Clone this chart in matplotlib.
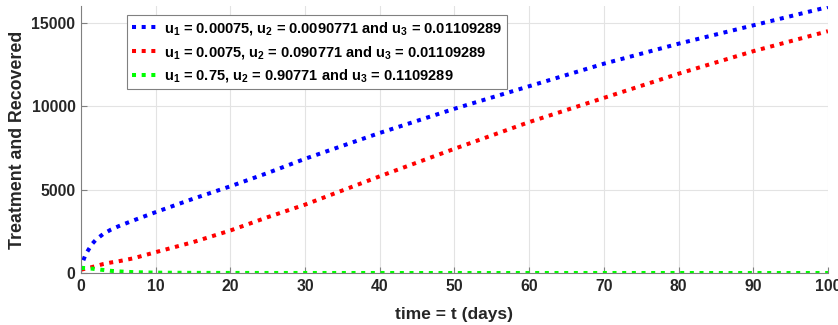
import matplotlib
matplotlib.use("Agg")
import matplotlib.pyplot as plt

plt.rcParams['font.family'] = ['Liberation Sans', 'DejaVu Sans']
plt.rcParams['font.weight'] = 'bold'
plt.rcParams['mathtext.fontset'] = 'custom'
plt.rcParams['mathtext.default'] = 'bf'
plt.rcParams['mathtext.bf'] = 'Liberation Sans:bold'
plt.rcParams['mathtext.rm'] = 'Liberation Sans:bold'

t = [0, 0.3, 0.6, 1, 1.5, 2, 3, 4, 5, 7, 10, 15, 20, 25, 30, 40, 50, 60, 70, 80, 90, 100]
blue = [200, 750, 1100, 1400, 1750, 2000, 2350, 2600, 2800, 3150, 3650, 4450, 5200, 6000, 6850,
        8400, 9850, 11200, 12550, 13750, 14850, 15950]
red = [200, 230, 260, 300, 360, 420, 540, 630, 700, 880, 1250, 1850, 2550, 3350, 4100,
       5800, 7450, 9050, 10500, 11950, 13300, 14500]
green = [300, 300, 295, 280, 260, 230, 180, 130, 95, 50, 20, 8, 3, 2, 1, 0, 0, 0, 0, 0, 0, 0]

labels = [
    'u$_1$ = 0.00075, u$_2$ = 0.0090771 and u$_3$ = 0.01109289',
    'u$_1$ = 0.0075, u$_2$ = 0.090771 and u$_3$ = 0.01109289',
    'u$_1$ = 0.75, u$_2$ = 0.90771 and u$_3$ = 0.1109289',
]
colors = ['#0000ff', '#ff0000', '#00ff00']
xticks = [0, 10, 20, 30, 40, 50, 60, 70, 80, 90, 100]
yticks = [0, 5000, 10000, 15000]

fig = plt.figure(figsize=(8.38, 3.25), dpi=100)
ax = fig.add_axes([0.0967, 0.16, 0.8913, 0.821])

for y, c, lab in zip([blue, red, green], colors, labels):
    ax.plot(t, y, color=c, linewidth=2.9, linestyle=(0, (1, 1.4)),
            dash_capstyle='butt', label=lab)

ax.set_xlim(0, 100)
ax.set_ylim(0, 16000)
ax.set_xticks(xticks)
ax.set_yticks(yticks)
ax.grid(True, color='#e3e3e3', linewidth=0.8)
ax.set_axisbelow(True)
for s in ['top', 'right']:
    ax.spines[s].set_visible(False)
for s in ['left', 'bottom']:
    ax.spines[s].set_color('#808080')
    ax.spines[s].set_linewidth(0.8)
ax.tick_params(direction='in', length=4, color='#808080', labelsize=11.3,
               labelcolor='#262626', pad=4)
for lab in ax.get_xticklabels() + ax.get_yticklabels():
    lab.set_fontweight('bold')

ax.set_xlabel('time = t (days)', fontsize=12.5, fontweight='bold', color='#262626')
ax.set_ylabel('Treatment and Recovered', fontsize=12.8, fontweight='bold', color='#262626')
ax.xaxis.set_label_coords(0.5, -0.129)
ax.yaxis.set_label_coords(-0.074, 0.5)

leg = ax.legend(loc='upper left', bbox_to_anchor=(0.0616, 0.967), fontsize=10.5,
                fancybox=False, edgecolor='#808080', framealpha=1,
                handlelength=1.7, handletextpad=0.45, borderpad=0.35,
                labelspacing=0.45, borderaxespad=0)
leg.get_frame().set_linewidth(0.8)
for txt in leg.get_texts():
    txt.set_fontweight('bold')

fig.savefig('out.png', dpi=100)
